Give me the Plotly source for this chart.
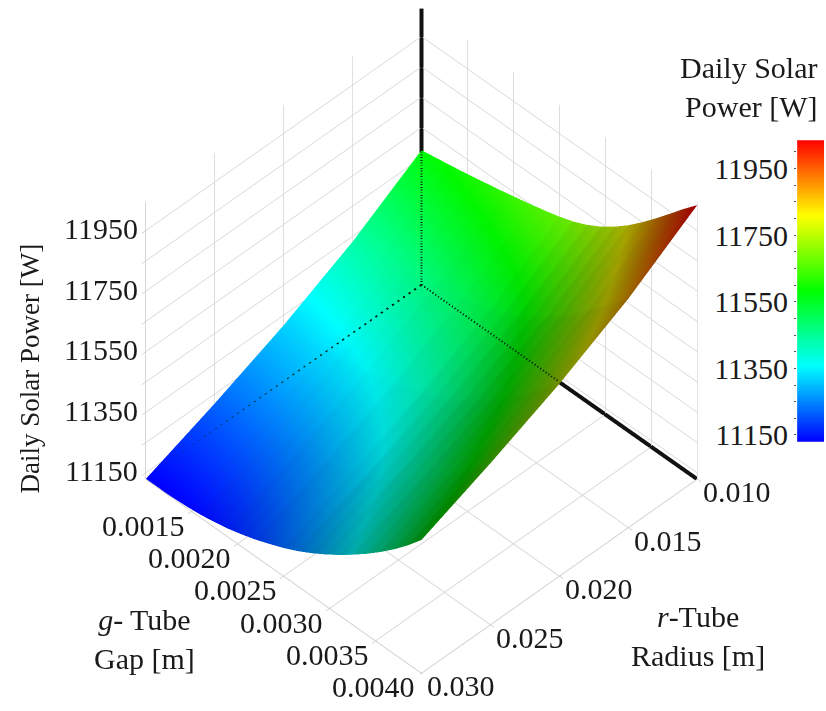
import plotly.graph_objects as go

gap = [0.00100, 0.00115, 0.00130, 0.00145, 0.00160, 0.00175, 0.00190, 0.00205, 0.00220, 0.00235, 0.00250,
       0.00265, 0.00280, 0.00295, 0.00310, 0.00325, 0.00340, 0.00355, 0.00370, 0.00385, 0.00400]
radius = [0.010, 0.015, 0.020, 0.025, 0.030]
power_r010 = [11575, 11583, 11591, 11600, 11609, 11619, 11629, 11640, 11651, 11663, 11676,
              11692, 11713, 11739, 11771, 11808, 11850, 11895, 11942, 11990, 12035]
power_r015 = [11433, 11438, 11444, 11451, 11459, 11468, 11478, 11490, 11502, 11516, 11531,
              11549, 11571, 11598, 11629, 11665, 11705, 11747, 11793, 11840, 11886]
power_r020 = [11317, 11320, 11325, 11330, 11337, 11346, 11356, 11368, 11381, 11397, 11413,
              11433, 11456, 11483, 11514, 11549, 11587, 11628, 11671, 11717, 11765]
power_r025 = [11219, 11221, 11224, 11228, 11234, 11242, 11252, 11265, 11279, 11296, 11314,
              11334, 11359, 11386, 11417, 11450, 11487, 11526, 11568, 11614, 11663]
power_r030 = [11130, 11130, 11132, 11135, 11140, 11148, 11158, 11171, 11186, 11204, 11223,
              11245, 11270, 11298, 11328, 11361, 11396, 11434, 11475, 11520, 11570]
power = [power_r010, power_r015, power_r020, power_r025, power_r030]

z_ticks = [11150, 11250, 11350, 11450, 11550, 11650, 11750, 11850, 11950]
z_labels = ["11150", "", "11350", "", "11550", "", "11750", "", "11950"]
r_ticks = [0.010, 0.015, 0.020, 0.025, 0.030]
r_labels = ["0.010", "0.015", "0.020", "0.025", "0.030"]
g_ticks = [0.0015, 0.0020, 0.0025, 0.0030, 0.0035, 0.0040]
g_labels = ["0.0015", "0.0020", "0.0025", "0.0030", "0.0035", "0.0040"]
cb_ticks = [11150, 11200, 11250, 11300, 11350, 11400, 11450, 11500, 11550, 11600, 11650,
            11700, 11750, 11800, 11850, 11900, 11950, 12000]
cb_labels = ["11150", "", "", "", "11350", "", "", "", "11550", "", "", "",
             "11750", "", "", "", "11950", ""]

Z_MIN, Z_MAX = 11130, 12045
C_MIN, C_MAX = 11130, 12035
# Axis units chosen so the shading normals follow the on-screen shape of the surface
R_UNIT, G_UNIT = 45000, 300000
R_RANGE = [0.010 * R_UNIT, 0.030 * R_UNIT]
G_RANGE = [0.0010 * G_UNIT, 0.0040 * G_UNIT]
NUDGE = 2  # keeps the heavy edges from z-fighting with the box lines
FONT = "Liberation Serif"
TICK_FONT = dict(family=FONT, size=30, color="#1a1a1a")
SCALE = [[0, "#0000ff"], [0.25, "#00ffff"], [0.5, "#00ff00"], [0.75, "#ffff00"], [1, "#ff0000"]]

rx = [v * R_UNIT for v in radius]
gy = [v * G_UNIT for v in gap]

fig = go.Figure()
fig.add_trace(go.Surface(
    x=rx, y=gy, z=list(map(list, zip(*power))),
    colorscale=SCALE, cmin=C_MIN, cmax=C_MAX, showscale=False, hoverinfo="skip",
    lighting=dict(ambient=0.32, diffuse=0.85, specular=0, roughness=1, fresnel=0),
    lightposition=dict(x=-45000, y=-55000, z=-70000),
    contours=dict(x=dict(highlight=False), y=dict(highlight=False), z=dict(highlight=False)),
    scene="scene"))
fig.add_trace(go.Scatter3d(
    x=[R_RANGE[0] + NUDGE] * 2, y=[G_RANGE[0] + NUDGE] * 2, z=[Z_MIN, Z_MAX], mode="lines",
    line=dict(color="#111111", width=8), hoverinfo="skip", showlegend=False, scene="scene"))
fig.add_trace(go.Scatter3d(
    x=[R_RANGE[0] + NUDGE] * 2, y=G_RANGE, z=[Z_MIN + NUDGE] * 2, mode="lines",
    line=dict(color="#111111", width=8), hoverinfo="skip", showlegend=False, scene="scene"))
# Edges seen through the surface
for xs, ys, zs in [
    ([R_RANGE[0]] * 2, [G_RANGE[0]] * 2, [Z_MIN, power_r010[0]]),
    (R_RANGE, [G_RANGE[0]] * 2, [Z_MIN, Z_MIN]),
    ([R_RANGE[0]] * 2, [G_RANGE[0], 0.0025 * G_UNIT], [Z_MIN, Z_MIN]),
]:
    fig.add_trace(go.Scatter3d(
        x=xs, y=ys, z=zs, mode="lines", line=dict(color="#002010", width=4, dash="dash"),
        hoverinfo="skip", showlegend=False, scene="scene2"))

fig.add_trace(go.Heatmap(
    x=[0, 1], y=list(range(C_MIN, C_MAX + 1, 5)),
    z=[[v, v] for v in range(C_MIN, C_MAX + 1, 5)],
    colorscale=SCALE, zmin=C_MIN, zmax=C_MAX, showscale=False, hoverinfo="skip",
    xaxis="x", yaxis="y"))


def axis(rng, ticks):
    return dict(
        range=rng, tickmode="array", tickvals=ticks, showticklabels=False, title=dict(text=""),
        showbackground=False, showgrid=True, gridcolor="#d8d8d8", gridwidth=2,
        showline=True, linecolor="#d0d0d0", linewidth=2, zeroline=False,
        ticks="outside", ticklen=5, tickcolor="#b0b0b0", showspikes=False,
    )


scene_notes = []
for v, t in zip(z_ticks, z_labels):
    if t:
        scene_notes.append(dict(x=R_RANGE[1], y=G_RANGE[0], z=v, text=t, showarrow=False,
                                xanchor="right", yanchor="middle", xshift=-5, yshift=2, font=TICK_FONT))
for v, t in zip(g_ticks, g_labels):
    scene_notes.append(dict(x=R_RANGE[1], y=v * G_UNIT, z=Z_MIN, text=t, showarrow=False,
                            xanchor="right", yanchor="middle", xshift=-4, yshift=-14, font=TICK_FONT))
for v, t in zip(r_ticks, r_labels):
    scene_notes.append(dict(x=v * R_UNIT, y=G_RANGE[1], z=Z_MIN, text=t, showarrow=False,
                            xanchor="left", yanchor="middle", xshift=4, yshift=-13, font=TICK_FONT))

camera = dict(eye=dict(x=1.07, y=1.07, z=1.5), up=dict(x=0, y=0, z=1),
              center=dict(x=0, y=0, z=0), projection=dict(type="orthographic"))
domain = dict(x=[0.02, 1.0], y=[0.039, 0.99])
hidden = dict(visible=False, showspikes=False)
ASPECT = dict(x=1.17, y=1.17, z=1.17)
fig.update_layout(
    width=826, height=711, margin=dict(l=0, r=0, t=0, b=0),
    paper_bgcolor="white", plot_bgcolor="white", showlegend=False,
    font=dict(family=FONT, size=30, color="#1a1a1a"),
    scene=dict(domain=domain, camera=camera, aspectmode="manual",
               aspectratio=ASPECT, dragmode=False,
               xaxis=axis(R_RANGE, [v * R_UNIT for v in r_ticks]),
               yaxis=axis(G_RANGE, [v * G_UNIT for v in g_ticks]),
               zaxis=axis([Z_MIN, Z_MAX], z_ticks),
               annotations=scene_notes),
    scene2=dict(domain=domain, camera=camera, aspectmode="manual",
                aspectratio=ASPECT, dragmode=False,
                bgcolor="rgba(0,0,0,0)",
                xaxis=dict(range=R_RANGE, **hidden),
                yaxis=dict(range=G_RANGE, **hidden),
                zaxis=dict(range=[Z_MIN, Z_MAX], **hidden)),
    xaxis=dict(domain=[0.965, 0.998], range=[-0.5, 1.5], visible=False, fixedrange=True),
    yaxis=dict(domain=[0.37, 0.80], range=[C_MIN, C_MAX], side="left", anchor="x",
               tickmode="array", tickvals=cb_ticks, ticktext=cb_labels,
               ticks="outside", ticklen=2, tickcolor="#555555", showgrid=False, zeroline=False,
               showline=False, fixedrange=True, tickfont=TICK_FONT),
    annotations=[
        dict(text="Daily Solar<br>Power [W]", x=0.992, y=0.93, xref="paper", yref="paper",
             xanchor="right", yanchor="top", showarrow=False, align="right",
             font=dict(family=FONT, size=30)),
        dict(text="Daily Solar Power [W]", x=0.036, y=0.474, xref="paper", yref="paper",
             textangle=-90, showarrow=False, font=dict(family=FONT, size=27),
             xanchor="center", yanchor="middle"),
        dict(text="<i>g</i>- Tube<br>Gap [m]", x=0.1755, y=0.089, xref="paper", yref="paper",
             xanchor="center", yanchor="middle",
             showarrow=False, align="center", font=dict(family=FONT, size=30)),
        dict(text="<i>r</i>-Tube<br>Radius [m]", x=0.845, y=0.093, xref="paper", yref="paper",
             xanchor="center", yanchor="middle",
             showarrow=False, align="center", font=dict(family=FONT, size=30)),
    ],
)
fig.write_html("out.html", config=dict(displayModeBar=False),
               post_script="document.body.style.margin='0';")
